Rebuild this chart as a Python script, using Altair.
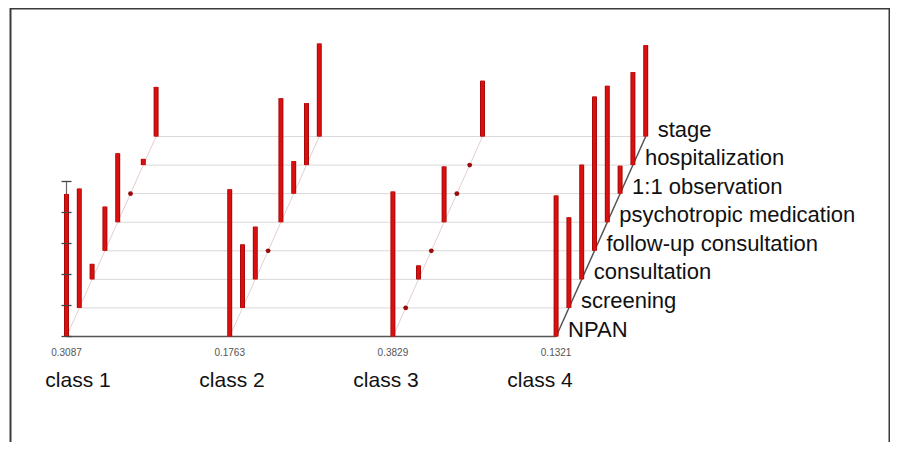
import altair as alt
import pandas as pd

# ---------------- data ----------------
classes = ["class 1", "class 2", "class 3", "class 4"]
class_share = ["0.3087", "0.1763", "0.3829", "0.1321"]
variables = ["NPAN", "screening", "consultation", "follow-up consultation",
             "psychotropic medication", "1:1 observation", "hospitalization", "stage"]
p_class1 = [0.92, 0.77, 0.10, 0.285, 0.445, 0.005, 0.04, 0.32]
p_class2 = [0.95, 0.41, 0.34, 0.005, 0.80, 0.21, 0.40, 0.60]
p_class3 = [0.935, 0.005, 0.09, 0.005, 0.36, 0.005, 0.005, 0.36]
p_class4 = [0.91, 0.585, 0.74, 0.995, 0.88, 0.18, 0.60, 0.59]
axis_ticks = [0.0, 0.2, 0.4, 0.6, 0.8, 1.0]

# ---------------- projection (layout) ----------------
X0, CSTEP, VDX, VDY, UNIT = 66.5, 163.2, 12.8, 28.57, 155.0
LABEL_X0, LABEL_STEP = 78, 154
W, H = 882, 434
BASE_Y = 336.5
xs = alt.Scale(domain=[8, 8 + W], nice=False, zero=False)
ys = alt.Scale(domain=[BASE_Y - (8 + H), BASE_Y - 8], nice=False, zero=False)
FONT = "Liberation Sans"

probs = [p_class1, p_class2, p_class3, p_class4]
bars = pd.DataFrame([
    {"cls": classes[ci], "ci": ci, "var": v, "vi": vi, "p": probs[ci][vi]}
    for ci in range(len(classes)) for vi, v in enumerate(variables)
])
cls_df = pd.DataFrame({"cls": classes, "ci": range(len(classes)), "share": class_share})
var_df = pd.DataFrame({"var": variables, "vi": range(len(variables))})
last_ci = len(classes) - 1
last_vi = len(variables) - 1
tick_df = pd.DataFrame({"v": axis_ticks})

xexpr = f"{X0} + datum.ci*{CSTEP} + datum.vi*{VDX}"

base_bars = alt.Chart(bars).transform_calculate(
    x=xexpr, y0=f"datum.vi*{VDY}", y1=f"datum.vi*{VDY} + datum.p*{UNIT}"
)

bar_edge = base_bars.mark_rule(color="#a80a0a", strokeWidth=5).encode(
    x=alt.X("x:Q", scale=xs, axis=None),
    y=alt.Y("y0:Q", scale=ys, axis=None),
    y2="y1:Q",
)
bar_rules = base_bars.mark_rule(color="#dc0f0f", strokeWidth=3).encode(
    x=alt.X("x:Q", scale=xs, axis=None),
    y=alt.Y("y0:Q", scale=ys, axis=None),
    y2="y1:Q",
)
dots = base_bars.transform_filter("datum.p < 0.02").mark_circle(
    color="#9a0d0d", size=22, opacity=1
).encode(x=alt.X("x:Q", scale=xs, axis=None), y=alt.Y("y0:Q", scale=ys, axis=None))

# grid lines at each variable level
grid_base = alt.Chart(var_df).transform_calculate(
    gx1=f"{X0} + datum.vi*{VDX}",
    gx2=f"{X0} + {last_ci}*{CSTEP} + datum.vi*{VDX}",
    gy=f"datum.vi*{VDY}",
)
grid = grid_base.transform_filter("datum.vi > 0").mark_rule(
    color="#d9d9d9", strokeWidth=1
).encode(x=alt.X("gx1:Q", scale=xs, axis=None), x2="gx2:Q",
         y=alt.Y("gy:Q", scale=ys, axis=None))
baseline = grid_base.transform_filter("datum.vi == 0").mark_rule(
    color="#555555", strokeWidth=1.5
).encode(x=alt.X("gx1:Q", scale=xs, axis=None), x2="gx2:Q",
         y=alt.Y("gy:Q", scale=ys, axis=None))

# diagonal depth axes per class
diag_base = alt.Chart(cls_df).transform_calculate(
    dx1=f"{X0} + datum.ci*{CSTEP}",
    dx2=f"{X0} + datum.ci*{CSTEP} + {last_vi}*{VDX}",
    dy1="0",
    dy2=f"{last_vi}*{VDY}",
)
diag_light = diag_base.transform_filter(f"datum.ci < {last_ci}").mark_rule(
    color="#e3cfcf", strokeWidth=1
).encode(x=alt.X("dx1:Q", scale=xs, axis=None), x2="dx2:Q",
         y=alt.Y("dy1:Q", scale=ys, axis=None), y2="dy2:Q")
diag_dark = diag_base.transform_filter(f"datum.ci == {last_ci}").mark_rule(
    color="#555555", strokeWidth=1.5
).encode(x=alt.X("dx1:Q", scale=xs, axis=None), x2="dx2:Q",
         y=alt.Y("dy1:Q", scale=ys, axis=None), y2="dy2:Q")

# probability axis at class 1
axis_line = alt.Chart(tick_df).transform_aggregate(
    vmax="max(v)", vmin="min(v)"
).transform_calculate(
    ax=f"{X0}", a0=f"datum.vmin*{UNIT}", a1=f"datum.vmax*{UNIT}"
).mark_rule(color="#666666", strokeWidth=1.2).encode(
    x=alt.X("ax:Q", scale=xs, axis=None),
    y=alt.Y("a0:Q", scale=ys, axis=None), y2="a1:Q")
ticks = alt.Chart(tick_df).transform_calculate(
    tx1=f"{X0} - 5", tx2=f"{X0} + 5", ty=f"datum.v*{UNIT}"
).mark_rule(color="#444444", strokeWidth=1.3).encode(
    x=alt.X("tx1:Q", scale=xs, axis=None), x2="tx2:Q",
    y=alt.Y("ty:Q", scale=ys, axis=None))

# texts
share_text = alt.Chart(cls_df).transform_calculate(
    tx=f"{X0} + datum.ci*{CSTEP}", ty="-16.5"
).mark_text(font=FONT, fontSize=10, color="#555555", align="center", baseline="middle").encode(
    x=alt.X("tx:Q", scale=xs, axis=None), y=alt.Y("ty:Q", scale=ys, axis=None), text="share:N")
class_text = alt.Chart(cls_df).transform_calculate(
    tx=f"{LABEL_X0} + datum.ci*{LABEL_STEP}", ty="-44.5"
).mark_text(font=FONT, fontSize=21, color="#111111", align="center", baseline="middle").encode(
    x=alt.X("tx:Q", scale=xs, axis=None), y=alt.Y("ty:Q", scale=ys, axis=None), text="cls:N")
var_text = alt.Chart(var_df).transform_calculate(
    tx=f"{X0} + {last_ci}*{CSTEP} + datum.vi*{VDX} + 12", ty=f"datum.vi*{VDY} + 7"
).mark_text(font=FONT, fontSize=22, color="#111111", align="left", baseline="middle").encode(
    x=alt.X("tx:Q", scale=xs, axis=None), y=alt.Y("ty:Q", scale=ys, axis=None), text="var:N")

# frame (decoration)
frame = alt.Chart(cls_df).transform_aggregate(n="count()").mark_rect(
    fill=None, stroke="#3a3a3a", strokeWidth=2
).encode(x=alt.value(2.5), x2=alt.value(W - 0.5), y=alt.value(0.5), y2=alt.value(H + 20))

chart = alt.layer(
    grid, baseline, diag_light, diag_dark, axis_line, bar_edge, bar_rules, dots, ticks,
    share_text, class_text, var_text, frame
).properties(
    width=W, height=H, padding=0, autosize=alt.AutoSizeParams(type="none"),
    background="white"
).configure_view(stroke=None)

chart.save("out.html", embed_options={"renderer": "svg", "actions": False})
